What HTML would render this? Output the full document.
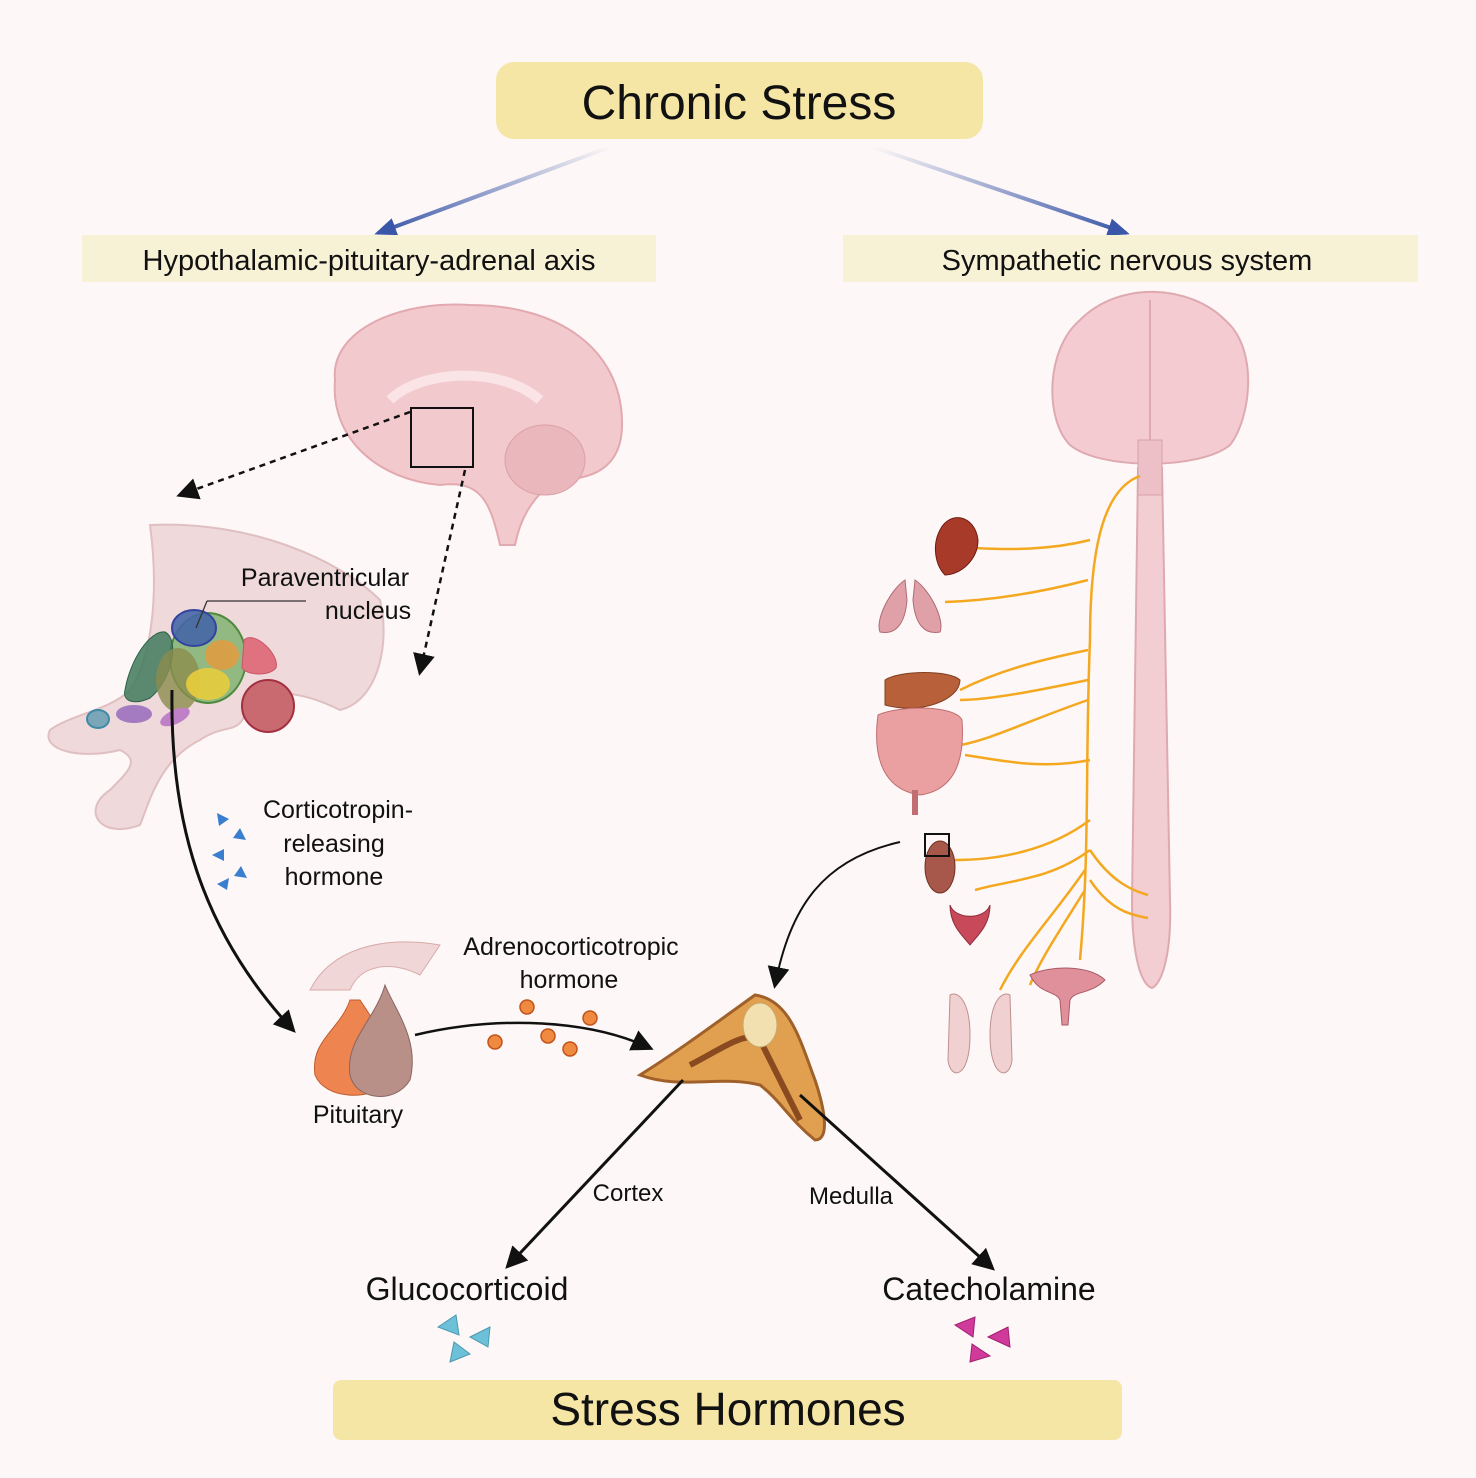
<!DOCTYPE html>
<html><head><meta charset="utf-8"><style>
html,body{margin:0;padding:0;background:#fdf8f7;}
svg{display:block;font-family:"Liberation Sans",Arial,sans-serif;}
</style></head><body>
<svg width="1476" height="1478" viewBox="0 0 1476 1478" xmlns="http://www.w3.org/2000/svg">
<defs>
<marker id="ah" markerWidth="10" markerHeight="10" refX="8" refY="5" orient="auto" markerUnits="userSpaceOnUse"><path d="M0,0 L10,5 L0,10 z" fill="#111"/></marker>
<marker id="ahb" markerWidth="22" markerHeight="22" refX="18" refY="11" orient="auto" markerUnits="userSpaceOnUse"><path d="M0,0 L22,11 L0,22 z" fill="#111"/></marker>
<marker id="ahbl" markerWidth="22" markerHeight="18" refX="18" refY="9" orient="auto" markerUnits="userSpaceOnUse"><path d="M0,0 L22,9 L0,18 z" fill="#3a56a8"/></marker>
<linearGradient id="gl" x1="1" y1="0" x2="0" y2="1"><stop offset="0" stop-color="#3a56a8" stop-opacity="0"/><stop offset="1" stop-color="#3a56a8"/></linearGradient>
<linearGradient id="gr" x1="0" y1="0" x2="1" y2="1"><stop offset="0" stop-color="#3a56a8" stop-opacity="0"/><stop offset="1" stop-color="#3a56a8"/></linearGradient>
</defs>
<rect width="1476" height="1478" fill="#fdf8f7"/>
<!-- title -->
<rect x="496" y="62" width="487" height="77" rx="18" fill="#f5e6a6"/>
<text x="739" y="119" font-size="48" text-anchor="middle" fill="#111">Chronic Stress</text>
<line x1="610" y1="147" x2="378" y2="233" stroke="url(#gl)" stroke-width="4" marker-end="url(#ahbl)"/>
<line x1="873" y1="147" x2="1126" y2="233" stroke="url(#gr)" stroke-width="4" marker-end="url(#ahbl)"/>
<rect x="82" y="235" width="574" height="47" fill="#f7f1d6"/>
<text x="369" y="270" font-size="29" text-anchor="middle" fill="#111">Hypothalamic-pituitary-adrenal axis</text>
<rect x="843" y="235" width="575" height="47" fill="#f7f1d6"/>
<text x="1127" y="270" font-size="29" text-anchor="middle" fill="#111">Sympathetic nervous system</text>

<!-- sagittal brain -->
<path d="M335,380 C330,330 400,300 470,305 C560,305 620,350 622,420 C624,470 590,480 555,480 C530,500 520,520 515,545 L500,545 C490,500 480,480 440,485 C380,480 330,440 335,380 Z" fill="#f2c9cd" stroke="#e3a9b0" stroke-width="2"/>
<path d="M390,400 C420,370 500,365 540,400" fill="none" stroke="#fbe4e6" stroke-width="10"/>
<ellipse cx="545" cy="460" rx="40" ry="35" fill="#eab7bd" stroke="#dba0a7"/>
<rect x="411" y="408" width="62" height="59" fill="none" stroke="#111" stroke-width="2"/>
<line x1="410" y1="412" x2="180" y2="495" stroke="#111" stroke-width="2.5" stroke-dasharray="6,5" marker-end="url(#ahb)"/>
<line x1="465" y1="470" x2="420" y2="672" stroke="#111" stroke-width="2.5" stroke-dasharray="6,5" marker-end="url(#ahb)"/>

<!-- hypothalamus zoom -->
<path d="M150,525 C250,520 340,560 380,600 C390,640 380,700 340,710 C300,690 270,690 250,700 C240,740 230,720 200,740 C160,760 150,800 140,825 C100,840 80,810 110,790 C130,770 140,760 120,750 C80,760 40,750 50,730 C70,715 110,710 130,690 C150,660 160,600 150,525 Z" fill="#efd9da" stroke="#e0bfc1" stroke-width="2"/>
<ellipse cx="208" cy="658" rx="38" ry="45" fill="#7bb06a" fill-opacity="0.8" stroke="#4c8a3c" stroke-width="2"/>
<path d="M125,690 C130,660 150,630 165,632 C180,640 172,680 150,698 C135,705 122,702 125,690Z" fill="#3f7a5c" fill-opacity="0.85" stroke="#2c6046"/>
<ellipse cx="178" cy="680" rx="22" ry="32" fill="#8c8c4c" fill-opacity="0.8"/>
<ellipse cx="194" cy="628" rx="22" ry="18" fill="#4666a6" fill-opacity="0.9" stroke="#3344a0" stroke-width="2"/>
<ellipse cx="222" cy="655" rx="17" ry="15" fill="#e39a3e" fill-opacity="0.85"/>
<ellipse cx="208" cy="684" rx="22" ry="16" fill="#e8cd3c" fill-opacity="0.9"/>
<path d="M244,640 C255,630 280,655 276,668 C270,676 248,676 242,668 Z" fill="#e0717f" stroke="#c9566a"/>
<circle cx="268" cy="706" r="26" fill="#c86a70" stroke="#a33040" stroke-width="2"/>
<ellipse cx="98" cy="719" rx="11" ry="9" fill="#7aa6b8" stroke="#3f8aa6" stroke-width="2"/>
<ellipse cx="134" cy="714" rx="18" ry="9" fill="#a47ac0"/>
<ellipse cx="175" cy="717" rx="16" ry="7" fill="#c080c8" transform="rotate(-25 175 717)"/>
<line x1="306" y1="601" x2="207" y2="601" stroke="#333" stroke-width="1.3"/>
<line x1="207" y1="601" x2="196" y2="628" stroke="#333" stroke-width="1.3"/>
<text x="325" y="586" font-size="25" text-anchor="middle" fill="#111">Paraventricular</text>
<text x="368" y="619" font-size="25" text-anchor="middle" fill="#111">nucleus</text>

<!-- CRH arrow -->
<path d="M172,690 C170,820 200,930 293,1030" fill="none" stroke="#111" stroke-width="3" marker-end="url(#ahb)"/>
<g fill="#3a7ed0">
<path d="M217,813 l12,6 l-10,7z"/><path d="M233,838 l7,-10 l6,12z"/><path d="M212,855 l12,-6 l0,12z"/><path d="M234,876 l7,-10 l6,12z"/><path d="M217,884 l12,-6 l-2,12z"/>
</g>
<text x="338" y="818" font-size="25" text-anchor="middle" fill="#111">Corticotropin-</text>
<text x="334" y="852" font-size="25" text-anchor="middle" fill="#111">releasing</text>
<text x="334" y="885" font-size="25" text-anchor="middle" fill="#111">hormone</text>

<!-- pituitary -->
<path d="M310,990 C330,950 380,935 440,945 L420,975 C390,960 360,965 350,990 Z" fill="#f0d6d6" stroke="#d9aaaa"/>
<path d="M350,1000 C340,1030 310,1040 315,1075 C325,1100 370,1100 385,1085 C400,1060 380,1030 360,1000 Z" fill="#ee8550" stroke="#c05c30"/>
<path d="M385,985 C395,1010 420,1040 410,1080 C395,1105 355,1100 350,1075 C345,1040 375,1020 385,985 Z" fill="#b89088" stroke="#8a6560"/>
<text x="358" y="1123" font-size="25" text-anchor="middle" fill="#111">Pituitary</text>
<text x="571" y="955" font-size="25" text-anchor="middle" fill="#111">Adrenocorticotropic</text>
<text x="569" y="988" font-size="25" text-anchor="middle" fill="#111">hormone</text>
<path d="M415,1035 C500,1015 590,1020 650,1048" fill="none" stroke="#111" stroke-width="2.5" marker-end="url(#ahb)"/>
<g fill="#f08a40" stroke="#c0541a" stroke-width="1.5">
<circle cx="527" cy="1007" r="7"/><circle cx="590" cy="1018" r="7"/><circle cx="548" cy="1036" r="7"/><circle cx="495" cy="1042" r="7"/><circle cx="570" cy="1049" r="7"/>
</g>

<!-- adrenal -->
<path d="M640,1075 C680,1050 720,1020 755,995 C790,1000 800,1040 815,1080 C825,1110 830,1140 815,1140 C790,1120 780,1100 760,1085 C720,1075 680,1090 640,1075 Z" fill="#e0a050" stroke="#a0602a" stroke-width="3"/>
<path d="M690,1065 C720,1050 745,1030 760,1040 C775,1070 790,1100 800,1120" fill="none" stroke="#8a4a20" stroke-width="6"/>
<ellipse cx="760" cy="1025" rx="17" ry="22" fill="#f2e0b0" stroke="#c8a868"/>
<line x1="683" y1="1080" x2="508" y2="1266" stroke="#111" stroke-width="3" marker-end="url(#ahb)"/>
<line x1="800" y1="1095" x2="992" y2="1268" stroke="#111" stroke-width="3" marker-end="url(#ahb)"/>
<text x="628" y="1201" font-size="24" text-anchor="middle" fill="#111">Cortex</text>
<text x="851" y="1204" font-size="24" text-anchor="middle" fill="#111">Medulla</text>
<text x="467" y="1300" font-size="32" text-anchor="middle" fill="#111">Glucocorticoid</text>
<text x="989" y="1300" font-size="32" text-anchor="middle" fill="#111">Catecholamine</text>
<g fill="#6cc0d8" stroke="#4a98b0"><path d="M438,1327 l18,-12 l3,20z"/><path d="M470,1337 l20,-10 l-2,20z"/><path d="M450,1362 l20,-8 l-16,-12z"/></g>
<g fill="#d03a9a" stroke="#a02070"><path d="M955,1325 l20,-8 l-2,20z"/><path d="M988,1337 l20,-10 l2,20z"/><path d="M970,1362 l20,-6 l-18,-12z"/></g>
<rect x="333" y="1380" width="789" height="60" rx="8" fill="#f5e6a6"/>
<text x="728" y="1425" font-size="46" text-anchor="middle" fill="#111">Stress Hormones</text>

<!-- frontal brain + spinal cord -->
<path d="M1138,468 L1162,468 L1170,900 C1172,960 1160,985 1152,988 C1142,985 1132,960 1132,900 Z" fill="#f2cdd2" stroke="#dfa9b0" stroke-width="2"/>
<path d="M1080,320 C1120,280 1190,285 1225,320 C1260,350 1250,420 1230,445 C1200,470 1100,470 1070,445 C1045,420 1045,350 1080,320 Z" fill="#f3cbd0" stroke="#dfa9b0" stroke-width="2"/>
<line x1="1150" y1="300" x2="1150" y2="440" stroke="#dfa9b0" stroke-width="2"/>
<path d="M1138,440 L1162,440 L1162,495 L1138,495 Z" fill="#ecc0c6" stroke="#d9a0a8"/>
<!-- nerves -->
<g fill="none" stroke="#f4a820" stroke-width="2.5">
<path d="M1140,476 C1100,490 1090,560 1090,640 C1085,760 1090,850 1080,960"/>
<path d="M1090,540 C1050,550 1010,550 975,548"/>
<path d="M1088,580 C1050,590 1000,600 945,602"/>
<path d="M1088,650 C1040,660 1000,670 960,690"/>
<path d="M1088,680 C1040,690 990,700 960,700"/>
<path d="M1088,700 C1030,720 990,740 960,745"/>
<path d="M1090,760 C1040,770 1000,760 965,755"/>
<path d="M1090,820 C1050,850 1000,860 955,860"/>
<path d="M1090,850 C1050,880 1010,880 975,890"/>
<path d="M1085,870 C1050,920 1020,950 1000,990"/>
<path d="M1085,890 C1060,930 1040,960 1030,985"/>
<path d="M1090,850 C1110,880 1130,890 1148,895"/>
<path d="M1090,880 C1110,910 1130,915 1148,918"/>
</g>
<!-- organs -->
<path d="M940,530 C950,510 975,515 978,540 C978,560 960,575 945,575 C935,565 932,545 940,530Z" fill="#a83a2a" stroke="#701a10"/>
<path d="M905,580 C890,590 875,620 880,632 C895,635 905,625 907,600Z M915,580 C930,590 945,620 940,632 C925,635 915,625 913,600Z" fill="#e0a0a8" stroke="#b06a74"/>
<path d="M885,680 C900,670 950,670 960,680 C960,700 920,715 885,705Z" fill="#b8603a" stroke="#804020"/>
<path d="M878,715 C900,705 955,705 962,720 C965,760 955,790 920,795 C885,790 872,760 878,715Z" fill="#eaa0a0" stroke="#c06e72"/>
<line x1="915" y1="790" x2="915" y2="815" stroke="#c06e72" stroke-width="6"/>
<ellipse cx="940" cy="867" rx="15" ry="26" fill="#a8584a" stroke="#70301f"/>
<rect x="925" y="834" width="24" height="22" fill="none" stroke="#111" stroke-width="2"/>
<path d="M950,905 C955,920 985,920 990,905 C990,925 978,935 970,945 C962,935 950,925 950,905Z" fill="#c84a5a" stroke="#902a3a"/>
<path d="M950,995 C960,990 970,1005 970,1035 C970,1080 950,1080 948,1060Z M1010,995 C1000,990 990,1005 990,1035 C990,1080 1010,1080 1012,1060Z" fill="#f0d0d0" stroke="#c09090"/>
<path d="M1030,975 C1050,965 1090,965 1105,980 C1090,995 1075,990 1070,1000 L1068,1025 L1062,1025 L1060,1000 C1055,990 1040,995 1030,975Z" fill="#e0909a" stroke="#a85a66"/>
<path d="M900,842 C820,860 790,910 775,985" fill="none" stroke="#111" stroke-width="2" marker-end="url(#ahb)"/>
</svg>
</body></html>
